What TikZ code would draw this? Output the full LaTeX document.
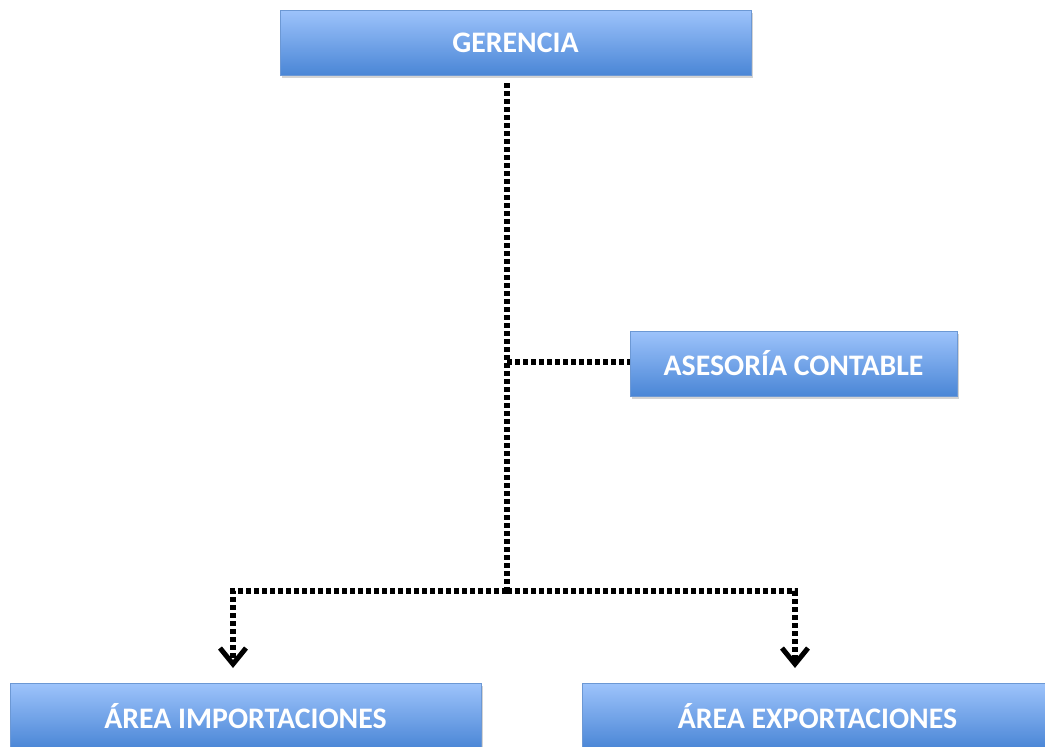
\documentclass[tikz,border=0pt]{standalone}
\usepackage{fontspec}
\setmainfont{Carlito}
\usetikzlibrary{arrows.meta,shadows}
\definecolor{boxtop}{HTML}{9DC3FB}
\definecolor{boxbot}{HTML}{4A86D6}
\definecolor{boxline}{HTML}{6C98D4}
\tikzset{
  orgbox/.style={rectangle, minimum height=65pt, inner sep=0pt,
    top color=boxtop, bottom color=boxbot, draw=boxline, line width=1pt,
    drop shadow={opacity=0.35, shadow xshift=1.5pt, shadow yshift=-2.5pt},
    text=white, font=\fontsize{29.8}{35}\selectfont\bfseries},
  dotline/.style={line width=5.5pt, dash pattern=on 5pt off 3pt, black},
  tip/.style={-{Straight Barb[length=16pt,width=26pt,line width=5pt]}}
}
\begin{document}
\begin{tikzpicture}[x=1pt,y=-1pt]
\useasboundingbox (0,0) rectangle (1045,747);
\node[orgbox, minimum width=471pt] (ger) at (515.5,42.5) {GERENCIA};
\node[orgbox, minimum width=327pt] (ase) at (793.5,363.5) {ASESORÍA CONTABLE};
\node[orgbox, minimum width=471pt] (imp) at (245.5,716) {ÁREA IMPORTACIONES};
\node[orgbox, minimum width=471pt] (exp) at (817.5,716) {ÁREA EXPORTACIONES};
\coordinate (top) at (507,83);
\coordinate (mid) at (507,362);
\coordinate (j) at (507,591);
\coordinate (l) at (233,591);
\coordinate (r) at (795,591);
\coordinate (lt) at (233,668);
\coordinate (rt) at (795,668);
\draw[dotline] (top) -- (j);
\draw[dotline] (mid) -- (ase.west |- mid);
\draw[dotline, tip] (j) -- (l) -- (lt);
\draw[dotline, tip] (j) -- (r) -- (rt);
\end{tikzpicture}
\end{document}
